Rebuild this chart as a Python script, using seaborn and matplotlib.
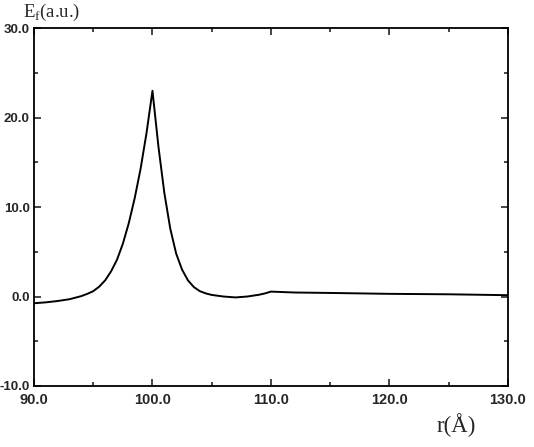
import numpy as np
import pandas as pd
import seaborn as sns
import matplotlib
matplotlib.use("Agg")
import matplotlib.pyplot as plt
from matplotlib.ticker import MultipleLocator, FormatStrFormatter

# values
r_vals = [90, 91, 92, 93, 94, 94.5, 95, 95.5, 96, 96.5, 97, 97.5,
          98, 98.5, 99, 99.5, 100,
          100.5, 101, 101.5, 102, 102.5, 103, 103.5, 104, 104.5, 105, 106, 107,
          108, 109, 109.5, 110, 111, 112, 115, 120, 125, 130]
ef_vals = [-0.75, -0.65, -0.5, -0.3, 0.05, 0.3, 0.6, 1.1, 1.8, 2.8, 4.1, 5.9,
           8.2, 11.0, 14.3, 18.3, 23.0,
           16.8, 11.6, 7.6, 4.8, 3.0, 1.8, 1.05, 0.6, 0.35, 0.18, 0.0, -0.1,
           0.0, 0.2, 0.35, 0.55, 0.5, 0.45, 0.4, 0.3, 0.25, 0.15]

df = pd.DataFrame({"r": r_vals, "Ef": ef_vals})

sns.set_style("ticks")
plt.rcParams["font.family"] = ["Liberation Sans", "DejaVu Sans"]
plt.rcParams["mathtext.fontset"] = "custom"
plt.rcParams["mathtext.rm"] = "Liberation Serif"
plt.rcParams["axes.unicode_minus"] = False

fig = plt.figure(figsize=(5.34, 4.47), dpi=100)
ax = fig.add_axes([0.0637, 0.1365, 0.951 - 0.0637, 0.937 - 0.1365])
sns.lineplot(x="r", y="Ef", data=df, ax=ax, color="black", linewidth=1.4)

ax.set_xlim(90, 130)
ax.set_ylim(-10, 30)
ax.xaxis.set_major_locator(MultipleLocator(10))
ax.xaxis.set_minor_locator(MultipleLocator(5))
ax.yaxis.set_major_locator(MultipleLocator(10))
ax.yaxis.set_minor_locator(MultipleLocator(5))
ax.xaxis.set_major_formatter(FormatStrFormatter("%.1f"))
ax.yaxis.set_major_formatter(FormatStrFormatter("%.1f"))
ax.tick_params(which="both", direction="in", top=True, right=True, width=1.2)
ax.tick_params(which="major", length=5)
ax.tick_params(axis="x", which="major", pad=5, labelsize=10.5)
ax.tick_params(axis="y", which="major", pad=3, labelsize=9.5)
ax.tick_params(which="minor", length=3)
for lab in ax.get_xticklabels() + ax.get_yticklabels():
    lab.set_fontweight("bold")
for s in ax.spines.values():
    s.set_linewidth(1.3)
    s.set_color("black")
ax.set_xlabel("")
ax.set_ylabel("")

fig.text(0.096, 0.962, r"E$_{\rm f}$(a.u.)", ha="center", va="baseline",
         fontsize=13.5, family=["Liberation Serif", "DejaVu Serif"])
fig.text(0.854, 0.034, "r(Å)", ha="center", va="baseline",
         fontsize=16.5, family=["Liberation Serif", "DejaVu Serif"])

fig.savefig("out.png", dpi=100)
